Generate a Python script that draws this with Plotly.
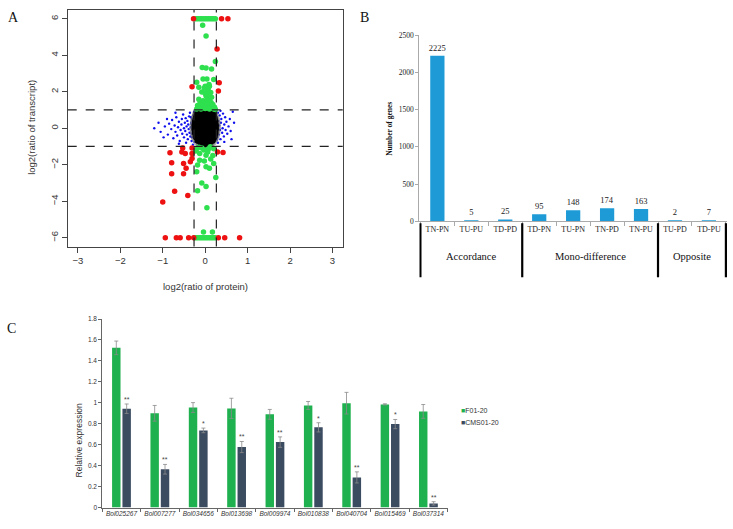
import plotly.graph_objects as go

W, H = 733, 529

# ---------------- Panel A data ----------------
black_x = [-0.08, 0.0, 0.08,
           -0.17, -0.08, 0.0, 0.08, 0.17,
           -0.20, -0.10, 0.0, 0.10, 0.20,
           -0.22, -0.11, 0.0, 0.11, 0.22,
           -0.23, -0.12, 0.0, 0.12, 0.23,
           -0.23, -0.12, 0.0, 0.12, 0.23,
           -0.22, -0.11, 0.0, 0.11, 0.22,
           -0.20, -0.10, 0.0, 0.10, 0.20,
           -0.16, -0.08, 0.0, 0.08, 0.16,
           -0.08, 0.0, 0.08]
black_y = [0.95, 0.95, 0.95,
           0.75, 0.75, 0.75, 0.75, 0.75,
           0.55, 0.55, 0.55, 0.55, 0.55,
           0.35, 0.35, 0.35, 0.35, 0.35,
           0.15, 0.15, 0.15, 0.15, 0.15,
           -0.05, -0.05, -0.05, -0.05, -0.05,
           -0.25, -0.25, -0.25, -0.25, -0.25,
           -0.45, -0.45, -0.45, -0.45, -0.45,
           -0.65, -0.65, -0.65, -0.65, -0.65,
           -0.82, -0.82, -0.82]

blue_x = [-1.2, -1.05, -0.95, -0.88, -0.85, -0.8, -0.78, -0.75, -0.72, -0.7,
          -0.68, -0.66, -0.64, -0.62, -0.6, -0.58, -0.56, -0.55, -0.54, -0.52,
          -0.5, -0.5, -0.48, -0.47, -0.46, -0.45, -0.44, -0.43, -0.42, -0.41,
          -0.4, -0.39, -0.38, -0.37, -0.36, -0.35, -0.34, -0.33, -0.32, -0.31,
          -0.3, -0.3, -0.29, -0.28, -0.28, -0.27, -0.26, -0.26, -0.25, -0.25,
          -0.98, -0.9, -1.1, -0.62, -0.7,
          -0.33, -0.31, -0.29, -0.3, -0.32, -0.28, -0.34, -0.29, -0.27, -0.31,
          0.25, 0.26, 0.27, 0.28, 0.29, 0.3, 0.3, 0.31, 0.32, 0.33,
          0.34, 0.35, 0.36, 0.37, 0.38, 0.4, 0.41, 0.42, 0.44, 0.45,
          0.47, 0.48, 0.5, 0.52, 0.55, 0.58, 0.6, 0.65, 0.68, 0.62, 0.45, 0.36,
          0.27, 0.29, 0.26, 0.28, 0.3, 0.27]
blue_y = [0.0, -0.2, 0.1, -0.35, 0.25, -0.05, 0.45, -0.55, 0.15, -0.2,
          0.6, -0.4, 0.05, 0.35, -0.7, -0.1, 0.2, 0.5, -0.3, 0.75,
          -0.5, 0.0, 0.3, -0.15, 0.55, -0.8, 0.1, -0.35, 0.4, -0.6,
          0.2, -0.05, 0.65, -0.25, 0.85, -0.45, 0.05, 0.3, -0.7, 0.5,
          -0.15, 0.15, -0.9, 0.7, -0.35, 0.4, -0.55, 0.9, 0.0, -0.75,
          -0.5, 0.5, 0.3, -0.85, 0.85,
          0.25, -0.05, 0.1, 0.45, -0.3, -0.2, 0.6, 0.3, 0.55, -0.5,
          0.3, -0.2, 0.6, -0.5, 0.05, 0.85, -0.8, 0.4, -0.35, 0.15,
          0.7, -0.1, -0.6, 0.3, 0.5, -0.25, 0.0, 0.8, -0.45, 0.2,
          0.6, -0.1, 0.35, -0.3, 0.1, 0.5, -0.15, 0.9, 0.3, -0.6, -0.75, 0.95,
          0.1, -0.4, 0.45, 0.2, -0.05, -0.65]

green_x = [-0.24, -0.2, -0.16, -0.12, -0.08, -0.04, 0.0, 0.04, 0.08, 0.12, 0.16, 0.2, 0.24,
           -0.06, 0.02, 0.24, -0.07, 0.02, 0.15, -0.05, 0.04, 0.2, -0.2, 0.09, -0.15, 0.0,
           0.07, -0.08, 0.13, 0.02, -0.15, 0.07, 0.14, -0.02, -0.12, 0.12,
           -0.2, -0.15, -0.1, -0.05, 0.0, 0.05, 0.1, 0.15, 0.2, -0.18, -0.08, 0.02, 0.08,
           0.18, -0.05, 0.05, 0.1, -0.12, 0.15, 0.0, 0.08, 0.04, -0.02, 0.1, 0.22, 0.24,
           -0.2, -0.08, 0.08, 0.2, -0.13, 0.02, -0.13, 0.13, 0.2, -0.18, -0.02, 0.1, 0.02,
           -0.2, 0.25, -0.08, 0.02, -0.18, 0.04, -0.04, 0.17, -0.15, -0.03, 0.12, 0.06,
           -0.22, 0.18,
           -0.24, -0.2, -0.16, -0.12, -0.08, -0.04, 0.0, 0.04, 0.08, 0.12, 0.16, 0.2, 0.24]
green_y = [6, 6, 6, 6, 6, 6, 6, 6, 6, 6, 6, 6, 6,
           5.64, 5.05, 3.66, 3.33, 3.3, 3.24, 2.7, 2.7, 2.67, 2.52, 2.4, 2.25, 2.3,
           2.16, 1.98, 1.95, 1.77, 1.59, 1.59, 1.41, 1.32, 1.23, 1.23,
           1.05, 1.1, 1.05, 1.15, 1.08, 1.12, 1.05, 1.1, 1.05, 1.25, 1.35, 1.45, 1.4,
           1.3, 1.5, 1.62, 1.55, 1.45, 1.7, 1.9, 1.85, 2.05, 2.2, 2.3, 1.15, 1.02,
           -1.12, -1.08, -1.12, -1.12, -1.39, -1.48, -1.75, -1.69, -1.93, -2.02, -1.8, -2.2, -2.11,
           -2.38, -2.7, -3.0, -3.19, -3.42, -4.36, -5.68, -5.68, -1.05, -1.2, -1.02, -1.3,
           -1.25, -1.5,
           -6, -6, -6, -6, -6, -6, -6, -6, -6, -6, -6, -6, -6]

red_x = [-0.275, 0.385, 0.535, 0.28, -0.31, 0.33, 0.31,
         -0.53, -0.31, -0.83, -0.55, -0.47, -0.31, -0.79, -0.51, -0.35, -0.31,
         -0.79, -0.51, -0.45, -0.72, -0.41, -1.0, 0.29, 0.42,
         -0.94, -0.68, -0.59, -0.39, -0.27, 0.31, 0.46, 0.81]
red_y = [6, 6, 6, 4.34, 2.27, 2.49, 2.04,
         -1.08, -1.08, -1.35, -1.3, -1.39, -1.39, -1.89, -1.93, -1.84, -1.66,
         -2.5, -2.5, -2.2, -3.46, -3.68, -4.04, -1.3, -1.33,
         -6, -6, -6, -6, -6, -6, -6, -6]

protein_cut = [-0.263, 0.263]
transcript_cut = [-1, 1]
A_xticks = [-3, -2, -1, 0, 1, 2, 3]
A_yticks = [-6, -4, -2, 0, 2, 4, 6]

# ---------------- Panel B data ----------------
B_cats = ["TN-PN", "TU-PU", "TD-PD", "TD-PN", "TU-PN", "TN-PD", "TN-PU", "TU-PD", "TD-PU"]
B_vals = [2225, 5, 25, 95, 148, 174, 163, 2, 7]
B_groups = ["Accordance", "Mono-difference", "Opposite"]
B_group_sizes = [3, 4, 2]
B_yticks = [0, 500, 1000, 1500, 2000, 2500]

# ---------------- Panel C data ----------------
C_genes = ["Bol025267", "Bol007277", "Bol034656", "Bol013698", "Bol009974",
           "Bol010838", "Bol040704", "Bol015469", "Bol037314"]
C_f01 = [1.525, 0.90, 0.955, 0.947, 0.89, 0.975, 0.997, 0.985, 0.918]
C_f01_err = [0.065, 0.075, 0.047, 0.097, 0.047, 0.038, 0.103, 0.006, 0.066]
C_cms = [0.944, 0.366, 0.737, 0.578, 0.625, 0.766, 0.288, 0.797, 0.040]
C_cms_err = [0.045, 0.046, 0.022, 0.053, 0.05, 0.044, 0.053, 0.044, 0.016]
C_sig = ["**", "**", "*", "**", "**", "*", "**", "*", "**"]
C_yticks = [0, 0.2, 0.4, 0.6, 0.8, 1, 1.2, 1.4, 1.6, 1.8]
C_yticktext = ["0", "0.2", "0.4", "0.6", "0.8", "1", "1.2", "1.4", "1.6", "1.8"]
C_series = ["F01-20", "CMS01-20"]

SANS = "Liberation Sans, Arial, sans-serif"
SERIF = "Liberation Serif, Times New Roman, serif"


def fx(p):
    return p / W


def fy(p):
    return 1 - p / H


GREEN_C = "#1fb14f"
DARK_C = "#3b4b60"
BLUE_B = "#1e9bd7"

fig = go.Figure()

# Panel A traces
fig.add_trace(go.Scatter(x=blue_x, y=blue_y, mode="markers", xaxis="x", yaxis="y",
                         marker=dict(color="#1010ee", size=2.4), showlegend=False, hoverinfo="skip"))
fig.add_trace(go.Scatter(x=black_x, y=black_y, mode="markers", xaxis="x", yaxis="y",
                         marker=dict(color="rgba(110,110,110,0.55)", size=12, line=dict(width=0)),
                         showlegend=False, hoverinfo="skip"))
fig.add_trace(go.Scatter(x=black_x, y=black_y, mode="markers", xaxis="x", yaxis="y",
                         marker=dict(color="black", size=8, line=dict(width=0)),
                         showlegend=False, hoverinfo="skip"))
fig.add_trace(go.Scatter(x=green_x, y=green_y, mode="markers", xaxis="x", yaxis="y",
                         marker=dict(color="#2ee04e", size=5.5), showlegend=False, hoverinfo="skip"))
fig.add_trace(go.Scatter(x=red_x, y=red_y, mode="markers", xaxis="x", yaxis="y",
                         marker=dict(color="#ee1111", size=5.5), showlegend=False, hoverinfo="skip"))

# Panel B
fig.add_trace(go.Bar(x=B_cats, y=B_vals, xaxis="x2", yaxis="y2", width=0.42,
                     marker=dict(color=BLUE_B, line=dict(width=0)),
                     text=[str(v) for v in B_vals], textposition="outside",
                     constraintext="none",
                     textfont=dict(family=SERIF, size=8.5, color="#222"),
                     cliponaxis=False, showlegend=False))

# Panel C
fig.add_trace(go.Bar(x=C_genes, y=C_f01, xaxis="x3", yaxis="y3", name=C_series[0],
                     width=0.22, offset=-0.245,
                     marker=dict(color=GREEN_C, line=dict(width=0)),
                     error_y=dict(type="data", array=C_f01_err, color="#8a8a8a", thickness=0.8, width=2),
                     showlegend=False))
fig.add_trace(go.Bar(x=C_genes, y=C_cms, xaxis="x3", yaxis="y3", name=C_series[1],
                     width=0.22, offset=0.025,
                     marker=dict(color=DARK_C, line=dict(width=0)),
                     error_y=dict(type="data", array=C_cms_err, color="#8a8a8a", thickness=0.8, width=2),
                     showlegend=False))

shapes = []
annotations = []

# Panel A threshold lines
for xv in protein_cut:
    shapes.append(dict(type="line", xref="x", yref="y domain", x0=xv, x1=xv, y0=0, y1=1,
                       line=dict(color="#222", width=1.2, dash="dash")))
for yv in transcript_cut:
    shapes.append(dict(type="line", xref="x domain", yref="y", x0=0, x1=1, y0=yv, y1=yv,
                       line=dict(color="#222", width=1.2, dash="dash")))


def note(text, x, y, size, family, angle=0, color="#333", **kw):
    d = dict(text=text, xref="paper", yref="paper", x=x, y=y, showarrow=False,
             xanchor="center", yanchor="middle", textangle=angle,
             font=dict(family=family, size=size, color=color))
    d.update(kw)
    return d


annotations.append(note("log2(ratio of protein)", fx(205), fy(287), 9.5, SANS))
annotations.append(note("log2(ratio of transcript)", fx(32), fy(126), 9.5, SANS, angle=-90))

# Panel B group dividers and labels
bounds = [-0.5]
for s in B_group_sizes:
    bounds.append(bounds[-1] + s)
for b in bounds:
    shapes.append(dict(type="line", xref="x2", yref="paper", x0=b, x1=b, y0=fy(223), y1=fy(278),
                       line=dict(color="black", width=2.2)))
for i, g in enumerate(B_groups):
    annotations.append(dict(text=g, xref="x2", yref="paper", x=(bounds[i] + bounds[i + 1]) / 2,
                            y=fy(257), showarrow=False, xanchor="center", yanchor="middle",
                            font=dict(family=SERIF, size=10.5, color="#111")))
annotations.append(note("<b>Number of genes</b>", fx(390), fy(127), 7.5, SERIF, angle=-90, color="#111"))

# Panel C stars
for i, (v, e, s) in enumerate(zip(C_cms, C_cms_err, C_sig)):
    annotations.append(dict(text=s, xref="x3", yref="y3", x=i + 0.135, y=v + e,
                            xanchor="center", yanchor="bottom", showarrow=False, yshift=-1,
                            font=dict(family=SANS, size=7, color="#444")))
annotations.append(note("Relative expression", fx(79), fy(444), 8.5, SANS, angle=-90))
# legend for panel C
for k, (name, col) in enumerate(zip(C_series, [GREEN_C, DARK_C])):
    annotations.append(note("<span style='color:%s'>■</span>%s" % (col, name),
                            fx(459), fy(414 + 12 * k), 7, SANS, xanchor="left"))

# Panel letters
for letter, px, py in [("A", 13, 14), ("B", 364, 14), ("C", 11, 330)]:
    annotations.append(note(letter, fx(px), fy(py), 14, SERIF, color="#111"))

fig.update_layout(
    width=W, height=H, margin=dict(l=0, r=0, t=0, b=0),
    paper_bgcolor="white", plot_bgcolor="white",
    shapes=shapes, annotations=annotations, showlegend=False,
    xaxis=dict(domain=[fx(67.7), fx(342.7)], anchor="y", range=[-3.24, 3.24],
               tickvals=A_xticks, ticks="outside", ticklen=5, tickcolor="#444",
               showline=True, mirror=True, linecolor="#444", linewidth=1,
               showgrid=False, zeroline=False,
               tickfont=dict(family=SANS, size=9.5, color="#333")),
    yaxis=dict(domain=[fy(246.7), fy(6)], anchor="x", range=[-6.48, 6.48],
               tickvals=A_yticks, ticks="outside", ticklen=5, tickcolor="#444", tickangle=-90,
               showline=True, mirror=True, linecolor="#444", linewidth=1,
               showgrid=False, zeroline=False,
               tickfont=dict(family=SANS, size=9.5, color="#333")),
    xaxis2=dict(domain=[fx(419.3), fx(727)], anchor="y2", type="category",
                ticks="outside", tickson="boundaries", ticklen=4, tickcolor="#aaa",
                showline=True, linecolor="#aaa", linewidth=1, showgrid=False, tickangle=0,
                tickfont=dict(family=SERIF, size=8, color="#222")),
    yaxis2=dict(domain=[fy(221), fy(31.7)], anchor="x2", range=[0, 2500],
                tickvals=B_yticks, ticks="outside", ticklen=3, tickcolor="#aaa",
                showline=True, linecolor="#aaa", linewidth=1, showgrid=False, zeroline=False,
                tickfont=dict(family=SERIF, size=7.5, color="#222")),
    xaxis3=dict(domain=[fx(102.3), fx(447.6)], anchor="y3", type="category",
                ticks="outside", tickson="boundaries", ticklen=3, tickcolor="#666",
                showline=True, linecolor="#666", linewidth=1, showgrid=False, tickangle=0,
                tickfont=dict(family=SANS, size=6.5, color="#333"),
                tickvals=C_genes, ticktext=["<i>%s</i>" % g for g in C_genes]),
    yaxis3=dict(domain=[fy(512.3), fy(320.5)], anchor="x3", range=[0, 1.8],
                tickvals=C_yticks, ticktext=C_yticktext, ticks="outside", ticklen=3, tickcolor="#666",
                showline=True, linecolor="#666", linewidth=1, showgrid=False, zeroline=False,
                tickfont=dict(family=SANS, size=6.5, color="#333")),
)

fig.write_html("out.html", config={"displayModeBar": False},
               post_script="document.body.style.margin='0';document.body.style.overflow='hidden';")
